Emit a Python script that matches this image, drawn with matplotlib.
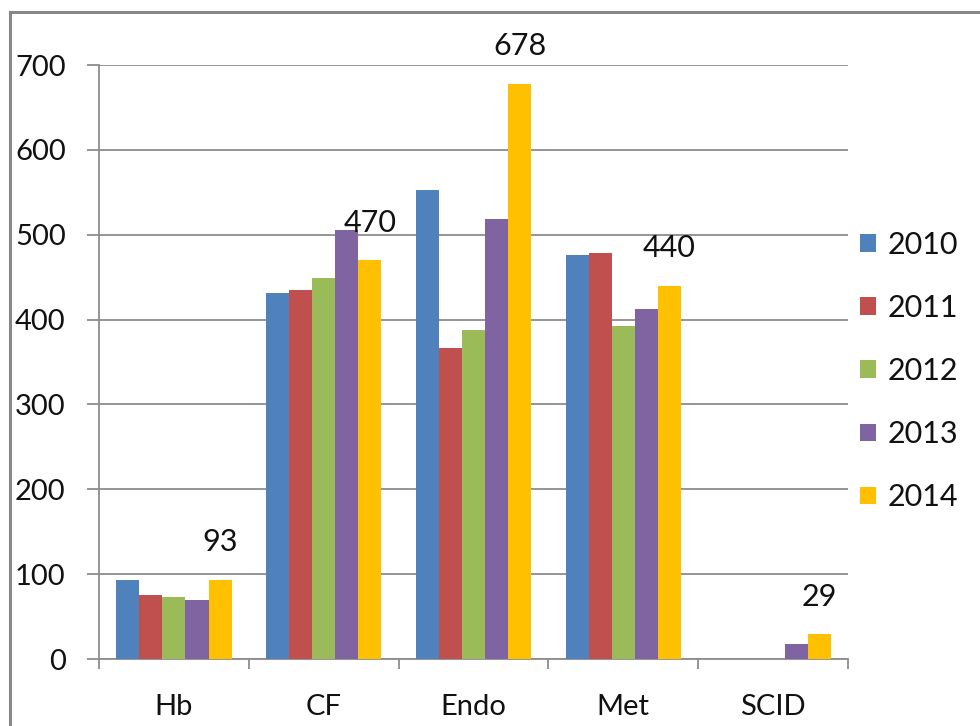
import numpy as np
import matplotlib
matplotlib.use("Agg")
import matplotlib.pyplot as plt
from matplotlib.lines import Line2D

# values
categories = ["Hb", "CF", "Endo", "Met", "SCID"]
years = ["2010", "2011", "2012", "2013", "2014"]
v2010 = [93, 431, 553, 476, 0]
v2011 = [75, 435, 367, 478, 0]
v2012 = [73, 449, 388, 392, 0]
v2013 = [69, 505, 518, 412, 18]
v2014 = [93, 470, 678, 440, 29]
colors = ["#4F81BD", "#C0504D", "#9BBB59", "#8064A2", "#FFC000"]

plt.rcParams['font.family'] = ['Lato', 'DejaVu Sans']

fig = plt.figure(figsize=(9.8, 7.26), dpi=100)
ax = fig.add_axes([99 / 980, 1 - 659 / 726, 749 / 980, 594 / 726])

series = [v2010, v2011, v2012, v2013, v2014]
x = np.arange(len(categories))
w = 0.154
bars = []
for i, (vals, c, yr) in enumerate(zip(series, colors, years)):
    b = ax.bar(x + (i - 2) * w, vals, width=w, color=c, label=yr, zorder=3)
    bars.append(b)

# data labels only on the 2014 series
for rect, v in zip(bars[-1], v2014):
    ax.annotate(str(v), (rect.get_x() + rect.get_width() / 2, v),
                xytext=(0, 17), textcoords="offset points",
                ha="center", va="bottom", fontsize=22, color="#111111")

grid_col = "#8C8C8C"
ax.set_ylim(0, 700)
ax.set_xlim(-0.5, 4.5)
ax.set_yticks(range(0, 701, 100))
ax.yaxis.grid(True, color=grid_col, linewidth=1.3, zorder=0)
ax.tick_params(axis="y", length=9, width=1.3, color=grid_col, pad=15,
               labelsize=21, labelcolor="#111111")

ax.set_xticks(x)
ax.set_xticklabels(categories)
ax.set_xticks(np.arange(-0.5, 4.6, 1), minor=True)
ax.tick_params(axis="x", which="major", length=0, pad=25,
               labelsize=21, labelcolor="#111111")
ax.tick_params(axis="x", which="minor", length=7, width=1.3, color=grid_col)

for s in ["top", "right"]:
    ax.spines[s].set_visible(False)
for s in ["left", "bottom"]:
    ax.spines[s].set_color(grid_col)
    ax.spines[s].set_linewidth(1.3)

leg = fig.legend(loc="center left", bbox_to_anchor=(848 / 980, 0.489),
                 frameon=False, fontsize=22, handlelength=0.5, handleheight=0.5,
                 handletextpad=0.4, labelspacing=1.15, borderaxespad=0)
for t in leg.get_texts():
    t.set_color("#111111")

# outer chart frame, cut off at the right and bottom
fig.add_artist(Line2D([10 / 980, 10 / 980], [0, 1 - 12 / 726],
                      transform=fig.transFigure, color="#888888", linewidth=2.2))
fig.add_artist(Line2D([10 / 980, 1], [1 - 12 / 726, 1 - 12 / 726],
                      transform=fig.transFigure, color="#888888", linewidth=2.2))

fig.savefig("out.png", dpi=100)
